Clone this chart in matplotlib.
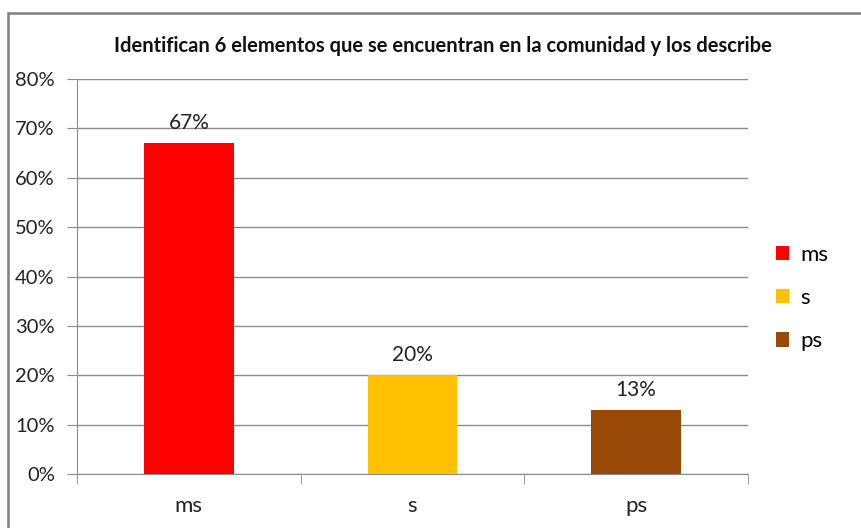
import matplotlib.pyplot as plt
from matplotlib.patches import Rectangle, Patch
import numpy as np

plt.rcParams['font.family'] = ['Lato', 'DejaVu Sans']

# datos
categorias = ["ms", "s", "ps"]
valores = [67, 20, 13]
colores = ["#FF0000", "#FFC000", "#984807"]
titulo = "Identifican 6 elementos que se encuentran en la comunidad y los describe"

fig = plt.figure(figsize=(8.62, 5.28), dpi=100)
ax = fig.add_axes([77 / 862, 1 - 474 / 528, 671 / 862, 395 / 528])

x = np.arange(len(categorias))
barras = ax.bar(x, valores, width=0.4, color=colores, zorder=3)
for xi, v in zip(x, valores):
    ax.text(xi, v + 2.0, f"{v}%", ha="center", va="bottom", fontsize=15, color="#222222")

ax.set_xlim(-0.5, len(categorias) - 0.5)
ax.set_ylim(0, 80)
ax.set_yticks(range(0, 81, 10))
ax.set_yticklabels([f"{t}%" for t in range(0, 81, 10)], fontsize=14.5)
ax.set_xticks(x)
ax.set_xticklabels(categorias, fontsize=16)
ax.set_xticks(np.arange(-0.5, len(categorias)), minor=True)

gris = "#8c8c8c"
ax.grid(axis="y", color=gris, linewidth=1, zorder=0)
for s in ["top", "right"]:
    ax.spines[s].set_visible(False)
for s in ["left", "bottom"]:
    ax.spines[s].set_color(gris)
ax.tick_params(axis="y", length=7, color=gris, pad=9, labelcolor="#222222")
ax.tick_params(axis="x", which="major", length=0, pad=16, labelcolor="#222222")
ax.tick_params(axis="x", which="minor", length=7, color=gris)

fig.text(443 / 862, 1 - 46 / 528, titulo, ha="center", va="center",
         fontsize=14.5, fontweight="bold", color="#111111")

handles = [Patch(facecolor=c, label=l) for c, l in zip(colores, categorias)]
fig.legend(handles=handles, loc="center left", bbox_to_anchor=(756 / 862, 1 - 298 / 528),
           frameon=False, fontsize=16, handlelength=0.6, handleheight=0.6,
           handletextpad=0.5, labelspacing=1.05)

# marco exterior del gráfico
fig.patches.append(Rectangle((8 / 862, -0.05), 1.0, 1.05 - 13 / 528, transform=fig.transFigure,
                             fill=False, edgecolor="#7f7f7f", linewidth=1.8))

fig.savefig("out.png", dpi=100)
